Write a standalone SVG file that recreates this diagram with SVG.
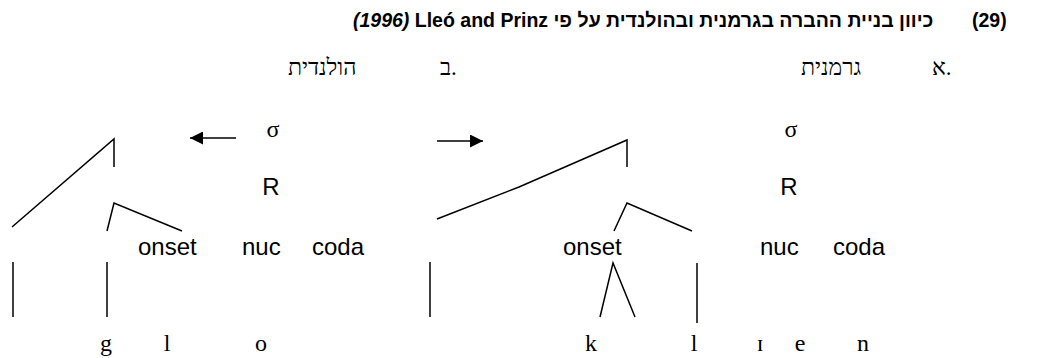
<svg xmlns="http://www.w3.org/2000/svg" width="1041" height="358" viewBox="0 0 1041 358">
<defs>
<style>
.hd{font-family:"Liberation Sans","DejaVu Sans",sans-serif;font-weight:bold;font-size:19.5px;fill:#000}
.heb{font-family:"Liberation Serif","DejaVu Sans",serif;font-size:23px;fill:#000}
.lab{font-family:"Liberation Sans",Arial,sans-serif;font-size:24px;fill:#000}
.seg{font-family:"Liberation Serif","Times New Roman",serif;font-size:24px;fill:#000}
.ln{stroke:#000;stroke-width:1.5;fill:none}
</style>
<marker id="ah" viewBox="0 0 10 10" refX="10" refY="5" markerWidth="13" markerHeight="13" markerUnits="userSpaceOnUse" orient="auto">
<path d="M0,0 L10,5 L0,10 Z" fill="#000"/>
</marker>
</defs>
<rect width="1041" height="358" fill="#fff"/>
<g id="header">
<text class="hd" x="353" y="27"><tspan font-style="italic">(1996)</tspan> Lleó and Prinz כיוון בניית ההברה בגרמנית ובהולנדית על פי</text>
<text class="hd" x="972" y="27">(29)</text>
</g>
<g id="titles">
<text class="heb" x="288" y="75">הולנדית</text>
<text class="heb" x="440" y="75">ב.</text>
<text class="heb" x="801" y="75">גרמנית</text>
<text class="heb" x="932" y="75">א.</text>
</g>
<g id="tree-dutch">
<text class="seg" x="273" y="137" text-anchor="middle">σ</text>
<text class="lab" x="271" y="195" text-anchor="middle">R</text>
<text class="lab" x="138" y="255">onset</text>
<text class="lab" x="242" y="255">nuc</text>
<text class="lab" x="312" y="255">coda</text>
<text class="seg" x="106" y="351" text-anchor="middle">g</text>
<text class="seg" x="167" y="351" text-anchor="middle">l</text>
<text class="seg" x="261" y="351" text-anchor="middle">o</text>
</g>
<g id="tree-german">
<text class="seg" x="791" y="137" text-anchor="middle">σ</text>
<text class="lab" x="789" y="195" text-anchor="middle">R</text>
<text class="lab" x="563" y="255">onset</text>
<text class="lab" x="760" y="255">nuc</text>
<text class="lab" x="833" y="255">coda</text>
<text class="seg" x="591" y="351" text-anchor="middle">k</text>
<text class="seg" x="694" y="351" text-anchor="middle">l</text>
<text class="seg" x="760" y="351" text-anchor="middle">ɪ</text>
<text class="seg" x="800" y="351" text-anchor="middle">e</text>
<text class="seg" x="863" y="351" text-anchor="middle">n</text>
</g>
<g id="connectors">
<line class="ln" x1="236" y1="138" x2="190" y2="138" marker-end="url(#ah)"/>
<line class="ln" x1="437" y1="141" x2="483" y2="141" marker-end="url(#ah)"/>
<polyline class="ln" points="12,227 114,139 114,167"/>
<polyline class="ln" points="107,231 114,203 182,231"/>
<line class="ln" x1="13" y1="262" x2="13" y2="317"/>
<line class="ln" x1="107" y1="262" x2="107" y2="317"/>
<polyline class="ln" points="437,219 519,187 627,140 627,167"/>
<polyline class="ln" points="614,231 627,203 692,231"/>
<line class="ln" x1="430" y1="262" x2="430" y2="317"/>
<polyline class="ln" points="600,317 613,263 635,317"/>
<line class="ln" x1="697" y1="263" x2="697" y2="323"/>
</g>
</svg>
